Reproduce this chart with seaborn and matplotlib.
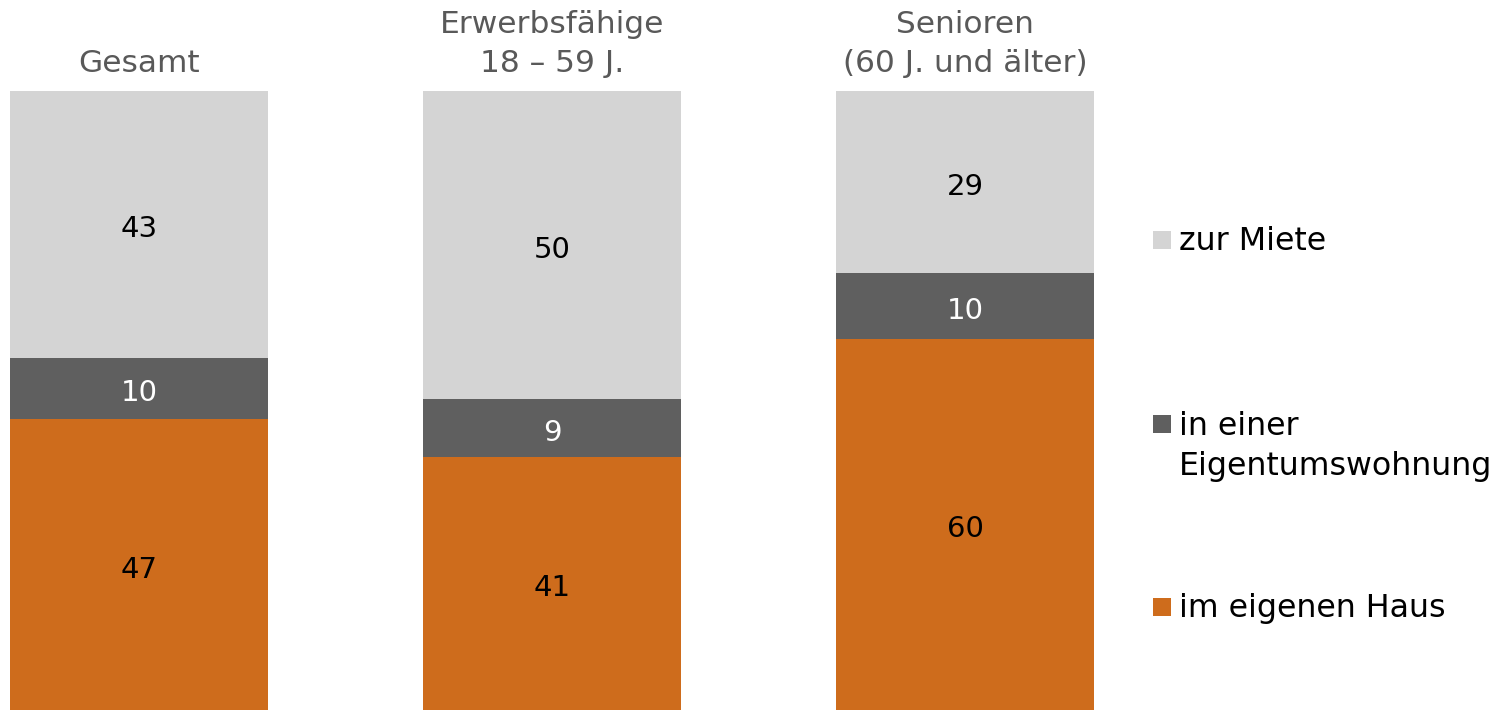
import matplotlib
matplotlib.use("Agg")
import matplotlib.pyplot as plt
import matplotlib.transforms as mtransforms
from matplotlib.patches import Rectangle
import seaborn as sns
import numpy as np

sns.set_theme(style="white")
plt.rcParams['font.family'] = ['DejaVu Sans']

# ---- data ----
categories = ["Gesamt", "Erwerbsfähige\n18 – 59 J.", "Senioren\n(60 J. und älter)"]
im_eigenen_haus = [47.0, 40.9, 60.0]
eigentumswohnung = [9.9, 9.3, 10.6]
zur_miete = [43.1, 49.8, 29.4]
haus_labels = ["47", "41", "60"]
wohnung_labels = ["10", "9", "10"]
miete_labels = ["43", "50", "29"]
series_names = ["zur Miete", "in einer\nEigentumswohnung", "im eigenen Haus"]

c_miete = "#D4D4D4"
c_wohnung = "#5F5F5F"
c_haus = "#CE6C1C"

W, H = 1504, 710
fig = plt.figure(figsize=(W / 100, H / 100), dpi=100)
ax_top_px, ax_bot_px = 91, 710
ax = fig.add_axes([10 / W, 1 - ax_bot_px / H, (1094 - 10) / W, (ax_bot_px - ax_top_px) / H])

haus = np.array(im_eigenen_haus)
wohn = np.array(eigentumswohnung)
miete = np.array(zur_miete)
lvl2 = haus + wohn
lvl3 = lvl2 + miete

x_keys = [c.split("\n")[0] for c in categories]
bw = 0.625
sns.barplot(x=x_keys, y=lvl3, color=c_miete, width=bw, saturation=1, linewidth=0, ax=ax)
sns.barplot(x=x_keys, y=lvl2, color=c_wohnung, width=bw, saturation=1, linewidth=0, ax=ax)
sns.barplot(x=x_keys, y=haus, color=c_haus, width=bw, saturation=1, linewidth=0, ax=ax)

ax.set_xlim(-bw / 2, 2 + bw / 2)
ax.set_ylim(0, 100)
ax.axis("off")

fs_num = 21
num_tr = ax.transData + mtransforms.ScaledTranslation(0, -5 / 100, fig.dpi_scale_trans)
for i in range(3):
    ax.text(i, haus[i] / 2, haus_labels[i], ha="center", va="center", fontsize=fs_num,
            color="black", transform=num_tr)
    ax.text(i, haus[i] + wohn[i] / 2, wohnung_labels[i], ha="center", va="center", fontsize=fs_num,
            color="white", transform=num_tr)
    ax.text(i, lvl2[i] + miete[i] / 2, miete_labels[i], ha="center", va="center", fontsize=fs_num,
            color="black", transform=num_tr)

# category titles (line by line, baseline aligned)
trans = mtransforms.blended_transform_factory(ax.transData, fig.transFigure)
fs_title = 22.5
for i, cat in enumerate(categories):
    lines = cat.split("\n")
    for k, line in enumerate(reversed(lines)):
        y_px = 72 - 39 * k
        ax.text(i, 1 - y_px / H, line, transform=trans, ha="center", va="baseline",
                fontsize=fs_title, color="#595959")

# legend drawn manually
fs_leg = 22.8
legend_items = [
    (c_miete, ["zur Miete"], 240, [250]),
    (c_wohnung, ["in einer", "Eigentumswohnung"], 424, [435, 475]),
    (c_haus, ["im eigenen Haus"], 607, [617]),
]
for color, lines, sq_c, baselines in legend_items:
    fig.add_artist(Rectangle((1153 / W, 1 - (sq_c + 9) / H), 18 / W, 18 / H,
                             transform=fig.transFigure, facecolor=color, edgecolor="none"))
    for line, b in zip(lines, baselines):
        fig.text(1179 / W, 1 - b / H, line, ha="left", va="baseline", fontsize=fs_leg, color="black")

fig.savefig("out.png", dpi=100)
